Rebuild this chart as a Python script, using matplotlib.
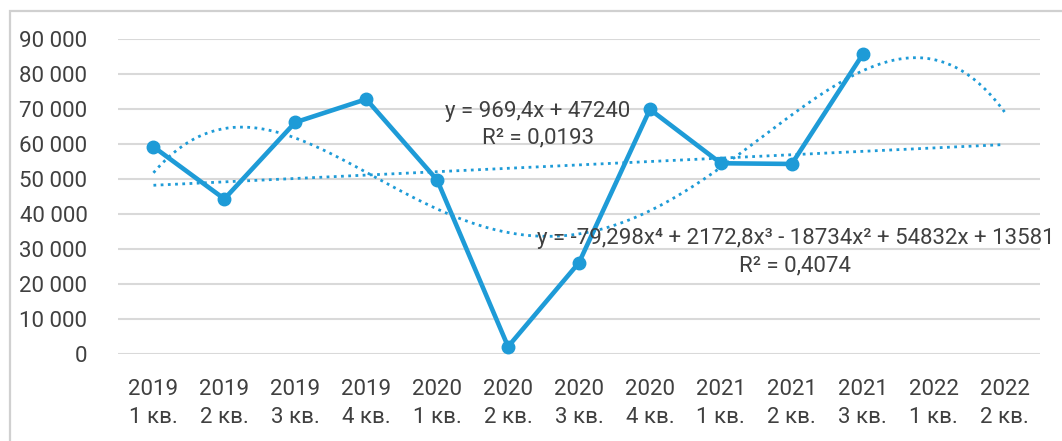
import numpy as np
import matplotlib.pyplot as plt
from matplotlib.patches import Rectangle

plt.rcParams['font.family'] = ['Roboto', 'DejaVu Sans']

# данные по кварталам
years = ['2019', '2019', '2019', '2019', '2020', '2020', '2020', '2020',
         '2021', '2021', '2021', '2022', '2022']
quarters = ['1 кв.', '2 кв.', '3 кв.', '4 кв.', '1 кв.', '2 кв.', '3 кв.', '4 кв.',
            '1 кв.', '2 кв.', '3 кв.', '1 кв.', '2 кв.']
values = [59200, 44300, 66200, 72800, 49700, 2100, 26100, 69900, 54500, 54300, 85600]
yticks = [0, 10000, 20000, 30000, 40000, 50000, 60000, 70000, 80000, 90000]

# коэффициенты трендов (с подписей на графике)
lin_coef = [969.4, 47240]
poly_coef = [-79.298, 2172.8, -18734, 54832, 13581]
lin_label = 'y = 969,4x + 47240\nR² = 0,0193'
poly_label = 'y = -79,298x⁴ + 2172,8x³ - 18734x² + 54832x + 13581\nR² = 0,4074'

blue = '#1E9BD7'
txt = '#404040'

fig = plt.figure(figsize=(10.62, 4.41), dpi=100)
# рамка области диаграммы
fig.patches.append(Rectangle((10/1062, -0.1), 1.2, 1 - 11/441 + 0.1, transform=fig.transFigure,
                             fill=False, edgecolor='#D0D0D0', linewidth=1.6))
ax = fig.add_axes([118/1062, 1 - 354/441, 922/1062, 315/441])

cats = np.arange(len(years))
ax.plot(cats[:len(values)], values, color=blue, linewidth=3.3, marker='o', markersize=9,
        zorder=4, clip_on=False)

xf = np.linspace(1, len(years), 300)
dots = (0, (1, 1.6))
ax.plot(xf - 1, np.polyval(lin_coef, xf), color=blue, linewidth=2.0,
        linestyle=dots, zorder=3)
ax.plot(xf - 1, np.polyval(poly_coef, xf), color=blue, linewidth=2.0,
        linestyle=dots, zorder=3)

ax.text(5.42, 65600, lin_label, ha='center', va='center', fontsize=16, color=txt,
        linespacing=1.35, zorder=5)
ax.text(9.05, 29100, poly_label, ha='center', va='center', fontsize=16, color=txt,
        linespacing=1.35, zorder=5, clip_on=False)

ax.set_xlim(-0.5, len(years) - 0.5)
ax.set_ylim(0, 90000)
ax.set_yticks(yticks)
ax.set_yticklabels([f'{v:,}'.replace(',', ' ') for v in yticks])
ax.set_xticks(cats)
ax.set_xticklabels([f'{y}\n{q}' for y, q in zip(years, quarters)], linespacing=1.45)
ax.grid(axis='y', color='#D9D9D9', linewidth=1.5)
ax.set_axisbelow(True)
for s in ax.spines.values():
    s.set_visible(False)
ax.tick_params(axis='both', length=0, labelsize=16, colors=txt)
ax.tick_params(axis='y', pad=22)
ax.tick_params(axis='x', pad=18)

fig.savefig('out.png', dpi=100)
